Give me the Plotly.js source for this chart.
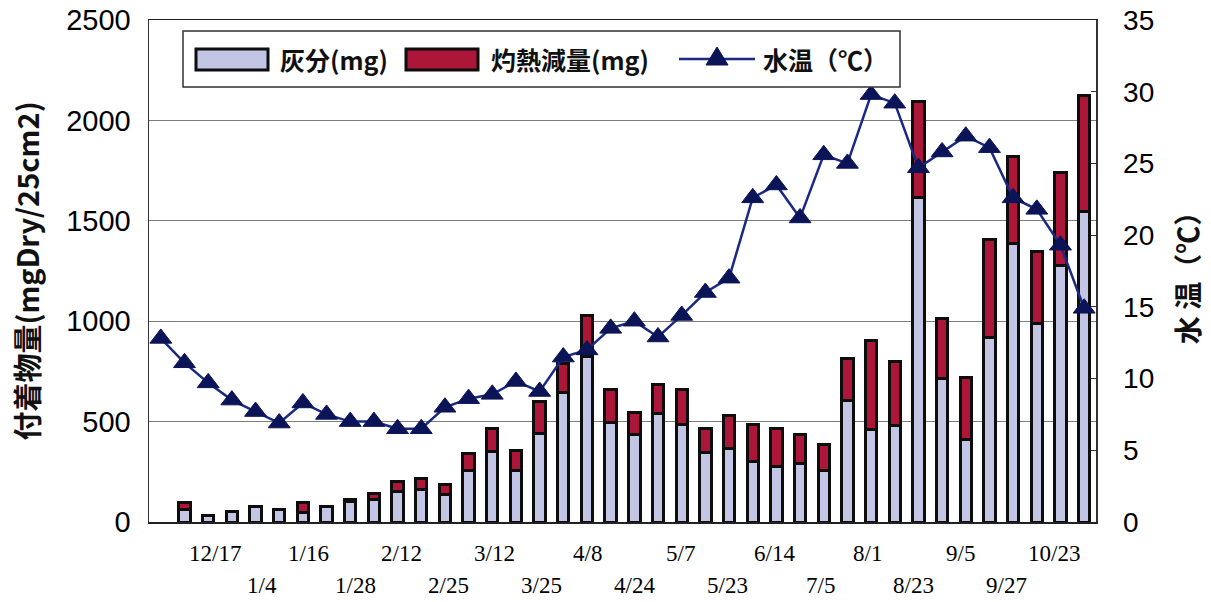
<!DOCTYPE html>
<html>
<head>
<meta charset="utf-8">
<script src="https://cdn.plot.ly/plotly-3.0.1.min.js"></script>
<style>
  html, body { margin: 0; padding: 0; background: #ffffff; }
  #chart { width: 1211px; height: 602px; }
</style>
</head>
<body>
<div id="chart"></div>
<script>
// Sampling rounds, left to right (round 0 has a water temperature only)
const sampleIndex = [
  0, 1, 2, 3, 4, 5, 6, 7, 8, 9,
  10, 11, 12, 13, 14, 15, 16, 17, 18, 19,
  20, 21, 22, 23, 24, 25, 26, 27, 28, 29,
  30, 31, 32, 33, 34, 35, 36, 37, 38, 39
];

// Ash content (mg Dry / 25 cm2)
const ashMg = [
  null, 60, 32, 50, 75, 63, 48, 76, 100, 113,
  152, 163, 135, 257, 352, 257, 443, 645, 825, 497,
  438, 538, 484, 344, 368, 301, 277, 289, 256, 603,
  461, 480, 1614, 714, 413, 918, 1385, 990, 1277, 1544
];

// Loss on ignition (mg Dry / 25 cm2)
const ignitionLossMg = [
  null, 37, 0, 0, 0, 0, 47, 0, 12, 27,
  50, 55, 50, 86, 116, 100, 159, 145, 205, 163,
  107, 147, 174, 122, 162, 185, 189, 148, 132, 212,
  444, 317, 478, 301, 306, 490, 435, 357, 465, 578
];

// Water temperature (deg C)
const waterTempC = [
  12.8, 11.1, 9.7, 8.5, 7.7, 6.9, 8.3, 7.5, 7.0, 7.0,
  6.5, 6.5, 8.0, 8.6, 8.9, 9.8, 9.1, 11.5, 12.0, 13.5,
  14.0, 12.9, 14.4, 16.0, 17.0, 22.6, 23.5, 21.2, 25.6, 25.0,
  29.8, 29.2, 24.7, 25.8, 26.9, 26.1, 22.6, 21.8, 19.3, 14.9
];

// Date labels under the axis, staggered over two rows
const dateLabels = [
  '12/17', '1/4', '1/16', '1/28', '2/12', '2/25', '3/12', '3/25', '4/8', '4/24',
  '5/7', '5/23', '6/14', '7/5', '8/1', '8/23', '9/5', '9/27', '10/23'
];

const seriesNames = ['灰分(mg)', '灼熱減量(mg)', '水温（℃）'];

const ASH_COLOR = '#c2c5e4';
const LOSS_COLOR = '#ab1639';
const TEMP_LINE = '#1a2a82';
const TEMP_MARK = '#0c1458';
const OUTLINE = '#0d0d0d';

// plot area in page pixels
const W = 1211, H = 602;
const PL = 149, PR = 1096, PT = 20, PB = 522;
const px = v => (v - PL) / (PR - PL);
const py = v => (PB - v) / (PB - PT);

const traces = [
  {
    type: 'bar', name: seriesNames[0], x: sampleIndex, y: ashMg,
    width: 0.48, yaxis: 'y',
    marker: { color: ASH_COLOR, line: { color: OUTLINE, width: 3 } },
    hoverinfo: 'x+y'
  },
  {
    type: 'bar', name: seriesNames[1], x: sampleIndex, y: ignitionLossMg,
    width: 0.48, yaxis: 'y',
    marker: { color: LOSS_COLOR, line: { color: OUTLINE, width: 3 } },
    hoverinfo: 'x+y'
  },
  {
    type: 'scatter', mode: 'lines+markers', name: seriesNames[2],
    x: sampleIndex, y: waterTempC, yaxis: 'y2',
    line: { color: TEMP_LINE, width: 2.5 },
    marker: { symbol: 'triangle-up', size: 19, color: TEMP_MARK,
              line: { color: TEMP_MARK, width: 1 } },
    cliponaxis: false
  }
];

// date labels as annotations on the category scale
const labelAnnotations = dateLabels.map((t, k) => ({
  text: t, xref: 'x', yref: 'paper',
  x: 2.3 + k * 1.967,
  y: k % 2 === 0 ? py(553) : py(585),
  xanchor: 'center', yanchor: 'middle', showarrow: false,
  font: { family: 'Liberation Serif, Times New Roman, serif', size: 23, color: '#000' }
}));

// legend drawn as a boxed row at the top of the plot
const LY0 = 31, LY1 = 87, LYC = 59;
const legendShapes = [
  { type: 'rect', xref: 'paper', yref: 'paper', layer: 'above',
    x0: px(183), x1: px(900), y0: py(LY1), y1: py(LY0),
    line: { color: '#333', width: 1.5 }, fillcolor: '#ffffff' },
  { type: 'rect', xref: 'paper', yref: 'paper', layer: 'above',
    x0: px(196), x1: px(268), y0: py(70), y1: py(49),
    line: { color: OUTLINE, width: 3 }, fillcolor: ASH_COLOR },
  { type: 'rect', xref: 'paper', yref: 'paper', layer: 'above',
    x0: px(406), x1: px(478), y0: py(70), y1: py(49),
    line: { color: OUTLINE, width: 3 }, fillcolor: LOSS_COLOR },
  { type: 'line', xref: 'paper', yref: 'paper', layer: 'above',
    x0: px(679), x1: px(755), y0: py(LYC), y1: py(LYC),
    line: { color: TEMP_LINE, width: 2.5 } },
  { type: 'path', xref: 'paper', yref: 'paper', layer: 'above',
    path: 'M' + px(706) + ',' + py(LYC + 6) + ' L' + px(728) + ',' + py(LYC + 6) +
          ' L' + px(717) + ',' + py(LYC - 12) + ' Z',
    line: { color: TEMP_MARK, width: 1 }, fillcolor: TEMP_MARK }
];

const legendFont = { family: 'Noto Sans CJK JP, sans-serif', size: 25, color: '#111', weight: 'bold' };
const legendAnnotations = [
  { text: seriesNames[0], x: px(278) },
  { text: seriesNames[1], x: px(489) },
  { text: seriesNames[2], x: px(761) }
].map(a => Object.assign({
  xref: 'paper', yref: 'paper', y: py(LYC), xanchor: 'left', yanchor: 'middle',
  showarrow: false, font: legendFont
}, a));

const layout = {
  width: W, height: H,
  margin: { l: PL, r: W - PR, t: PT, b: H - PB },
  paper_bgcolor: '#ffffff', plot_bgcolor: '#ffffff',
  showlegend: false,
  barmode: 'stack',
  xaxis: {
    range: [-0.5, 39.5], showticklabels: false, ticks: '',
    showgrid: false, zeroline: false,
    showline: true, linecolor: '#222', linewidth: 1.5, mirror: true
  },
  yaxis: {
    range: [0, 2500], tick0: 0, dtick: 500,
    showgrid: true, gridcolor: '#7d7d7d', gridwidth: 1.3, zeroline: false,
    showline: true, linecolor: '#333', linewidth: 1.5, mirror: true,
    ticks: '',
    ticklabelstandoff: 11,
    tickfont: { family: 'Liberation Sans, Arial, sans-serif', size: 29, color: '#000' },
    title: {
      text: '付着物量(mgDry/25cm2)', standoff: 18,
      font: { family: 'Noto Sans CJK JP, sans-serif', size: 29, color: '#111', weight: 'bold' }
    }
  },
  yaxis2: {
    overlaying: 'y', side: 'right',
    range: [0, 35], tick0: 0, dtick: 5,
    showgrid: false, zeroline: false,
    showline: true, linecolor: '#333', linewidth: 1.5,
    ticks: 'inside', ticklen: 5, tickcolor: '#333',
    ticklabelstandoff: 20,
    tickfont: { family: 'Liberation Sans, Arial, sans-serif', size: 28, color: '#000' },
    title: {
      text: '水 温（℃）', standoff: 26,
      font: { family: 'Noto Sans CJK JP, sans-serif', size: 28, color: '#111', weight: 'bold' }
    }
  },
  shapes: legendShapes,
  annotations: labelAnnotations.concat(legendAnnotations)
};

Plotly.newPlot('chart', traces, layout, { displayModeBar: false, staticPlot: true });
</script>
</body>
</html>
